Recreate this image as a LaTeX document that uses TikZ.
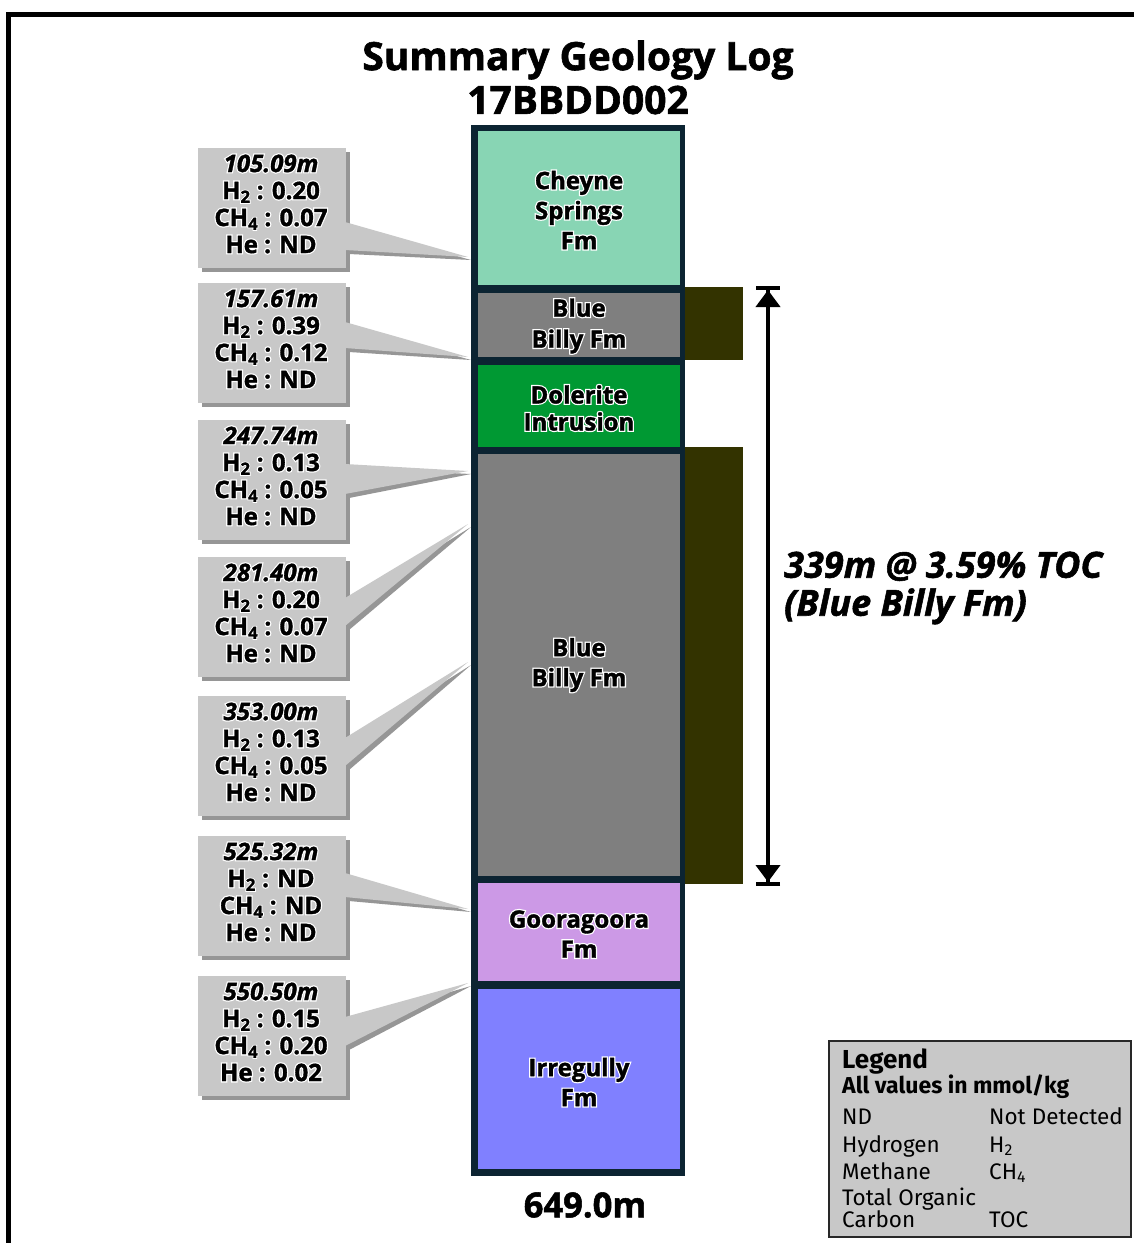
\documentclass[tikz,border=0pt]{standalone}
\usepackage{fontspec}
\setmainfont{Open Sans}
\newfontfamily\legfont{Fira Sans}
\newfontfamily\olfam{Open Sans}[FakeBold=12]
\newfontfamily\blkfam{Open Sans}[FakeBold=1.5]
\usetikzlibrary{arrows.meta}
\definecolor{coldark}{RGB}{12,36,50}
\definecolor{cteal}{RGB}{136,213,180}
\definecolor{cgray}{RGB}{127,127,127}
\definecolor{cgreen}{RGB}{0,153,51}
\definecolor{clilac}{RGB}{204,153,230}
\definecolor{cblue}{RGB}{128,128,255}
\definecolor{colive}{RGB}{51,51,0}
\definecolor{callgray}{RGB}{200,200,200}
\definecolor{shadowgray}{RGB}{150,150,150}
\definecolor{legdark}{RGB}{40,40,40}
\newcommand{\ol}[1]{\leavevmode\setbox0=\hbox{\blkfam #1}\rlap{\hbox to \wd0{\hss{\olfam\color{white}#1}\hss}}\box0}
\tikzset{
  fmlabel/.style={font=\bfseries\fontsize{24}{30}\selectfont, align=center, inner sep=0pt},
  calltext/.style={font=\bfseries\fontsize{24}{27}\selectfont, align=center, inner sep=0pt},
  legtext/.style={font=\legfont\fontsize{22.5}{24}\selectfont, anchor=base west, inner sep=0pt},
}
\begin{document}
\begin{tikzpicture}[x=1pt,y=-1pt]
\useasboundingbox (0,0) rectangle (1134,1243);
\fill[white] (0,0) rectangle (1134,1243);
\draw[line width=5pt] (8,1243) -- (8,14) -- (1134,14);
% title
\node[font=\blkfam\bfseries\fontsize{39}{40}\selectfont, inner sep=0pt] (title1) at (578,60) {Summary Geology Log};
\node[font=\blkfam\bfseries\fontsize{39}{40}\selectfont, inner sep=0pt] (title2) at (578,100) {17BBDD002};
% column
\fill[coldark] (471,125) rectangle (685,1176);
\fill[cteal]  (478,131) rectangle (680,285);
\fill[cgray]  (478,293) rectangle (680,357);
\fill[cgreen] (478,365) rectangle (680,447);
\fill[cgray]  (478,454) rectangle (680,876);
\fill[clilac] (478,883) rectangle (680,981);
\fill[cblue]  (478,989) rectangle (680,1169);
\node[fmlabel] (f1) at (579,210) {\ol{Cheyne}\\\ol{Springs}\\\ol{Fm}};
\node[fmlabel, font=\bfseries\fontsize{24}{31}\selectfont] (f2) at (579,326) {\ol{Blue}\\\ol{Billy Fm}};
\node[fmlabel, font=\bfseries\fontsize{24}{27}\selectfont] (f3) at (579,408) {\ol{Dolerite}\\\ol{Intrusion}};
\node[fmlabel] (f4) at (579,665) {\ol{Blue}\\\ol{Billy Fm}};
\node[fmlabel] (f5) at (579,934) {\ol{Gooragoora}\\\ol{Fm}};
\node[fmlabel] (f6) at (579,1082) {\ol{Irregully}\\\ol{Fm}};
% TOC bars
\fill[colive] (685,287) rectangle (743,360);
\fill[colive] (685,447) rectangle (743,884);
% arrow
\coordinate (atop) at (768,286);
\coordinate (abot) at (768,886);
\draw[line width=4pt, {Bar[width=24pt,line width=4pt]Triangle[width=24pt,length=17pt]}-{Triangle[width=24pt,length=17pt]Bar[width=24pt,line width=4pt]}] (atop) -- (abot);
\node[anchor=west, align=left, inner sep=0pt, font=\blkfam\bfseries\itshape\fontsize{36}{38}\selectfont] (toc) at (784,588) {339m @ 3.59\% TOC\\(Blue Billy Fm)};
% callouts
\foreach \ytop/\ba/\bb/\tip/\vdep/\vh/\vc/\vhe [count=\i] in {
  148/222/250/257/105.09m/0.20/0.07/ND,
  283/322/348/357/157.61m/0.39/0.12/ND,
  420/464/494/471/247.74m/0.13/0.05/ND,
  557/598/626/524/281.40m/0.20/0.07/ND,
  696/738/766/662/353.00m/0.13/0.05/ND,
  836/873/897/909/525.32m/ND/ND/ND,
  976/1017/1046/983/550.50m/0.15/0.20/0.02}{
  \fill[shadowgray] (202,\ytop+4) rectangle (350,\ytop+124);
  \fill[shadowgray] (349,\ba+4) -- (471,\tip+3) -- (349,\bb+4) -- cycle;
  \fill[callgray] (198,\ytop) rectangle (346,\ytop+120);
  \fill[callgray] (345,\ba) -- (468,\tip) -- (345,\bb) -- cycle;
  \node[calltext] (c\i) at (271,\ytop+56) {\ol{\textit{\vdep}}\\\ol{H\textsubscript{2} : \vh}\\\ol{CH\textsubscript{4} : \vc}\\\ol{He : \vhe}};
}
% depth
\node[font=\blkfam\bfseries\fontsize{34.5}{36}\selectfont, inner sep=0pt] (depth) at (585,1205) {649.0m};
% legend
\draw[line width=2.5pt, draw=legdark, fill=callgray] (829,1041) rectangle (1131,1237);
\node[legtext, font=\legfont\bfseries\fontsize{26}{28}\selectfont] (lg0) at (842,1068) {Legend};
\node[legtext, font=\legfont\bfseries\fontsize{23}{24}\selectfont] (lg1) at (842,1093) {All values in mmol/kg};
\node[legtext] (lg2a) at (842,1124) {ND};
\node[legtext] (lg2b) at (989,1124) {Not Detected};
\node[legtext] (lg3a) at (842,1152) {Hydrogen};
\node[legtext] (lg3b) at (989,1152) {H\textsubscript{2}};
\node[legtext] (lg4a) at (842,1179) {Methane};
\node[legtext] (lg4b) at (989,1179) {CH\textsubscript{4}};
\node[legtext] (lg5a) at (842,1205) {Total Organic};
\node[legtext] (lg6a) at (842,1227) {Carbon};
\node[legtext] (lg6b) at (989,1227) {TOC};
\end{tikzpicture}
\end{document}
